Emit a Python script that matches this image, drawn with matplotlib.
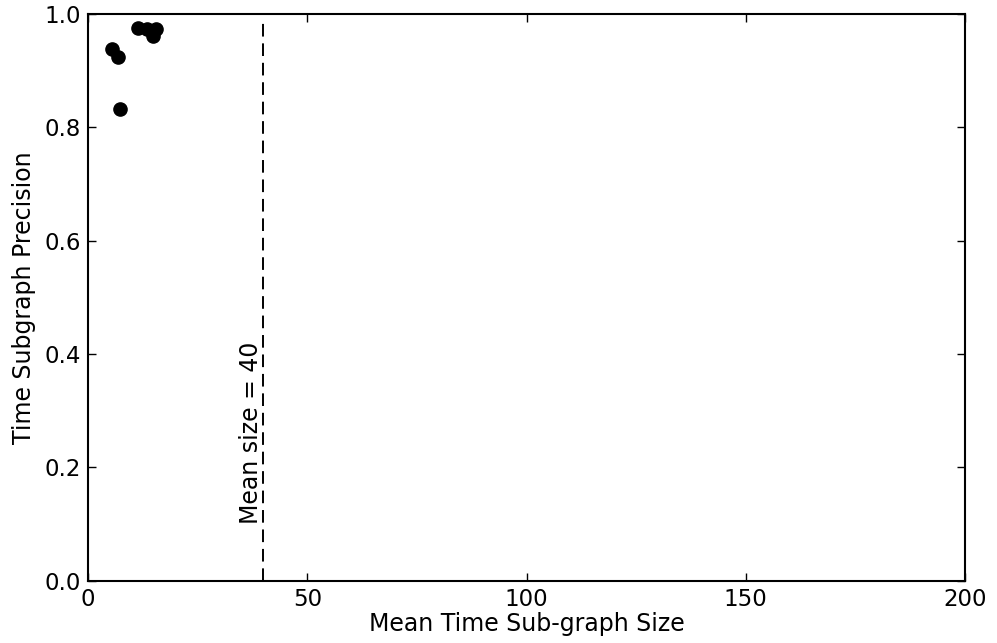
import matplotlib
matplotlib.use("Agg")
import matplotlib.pyplot as plt

# mean sub-graph size vs precision
sizes = [11.3, 13.5, 15.6, 14.9, 5.4, 6.8, 7.3]
precision = [0.976, 0.974, 0.974, 0.961, 0.939, 0.925, 0.833]
mean_size = 40

plt.rcParams['font.size'] = 17
plt.rcParams['axes.linewidth'] = 1.5

fig = plt.figure(figsize=(9.97, 6.43), dpi=100)
ax = fig.add_axes([0.0883, 0.097, 0.8796, 0.881])

ax.plot(sizes, precision, 'ko', ms=9.5)
ax.vlines(mean_size, 0, 0.988, colors='k', linestyles=(0, (6.5, 3.5)), linewidth=1.4)
ax.text(mean_size, 0.1, 'Mean size = %d' % mean_size, rotation=90,
        ha='right', va='bottom', fontsize=17)

ax.set_xlim(0, 200)
ax.set_ylim(0, 1.0)
ax.set_xticks([0, 50, 100, 150, 200])
ax.set_yticks([0.0, 0.2, 0.4, 0.6, 0.8, 1.0])
ax.tick_params(direction='in', top=True, right=True, length=6, width=1,
               pad=5, labelsize=16.5)
ax.set_xlabel('Mean Time Sub-graph Size', labelpad=1)
ax.set_ylabel('Time Subgraph Precision', labelpad=6)

fig.savefig('out.png', dpi=100)
